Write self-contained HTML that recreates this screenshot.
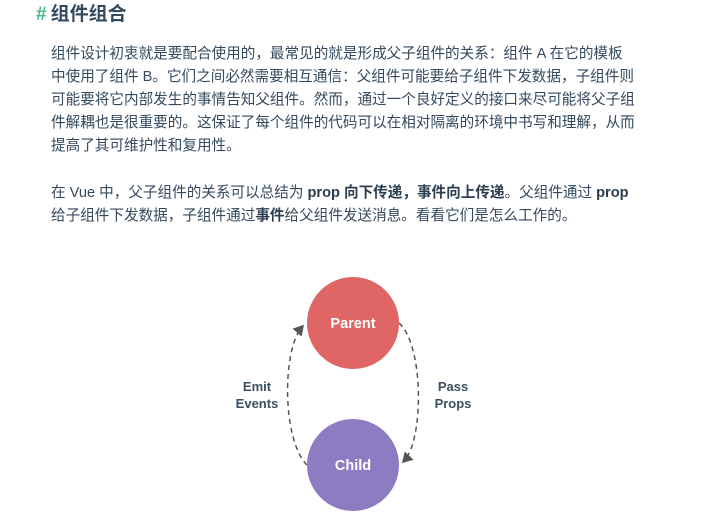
<!DOCTYPE html>
<html><head><meta charset="utf-8"><style>
body{margin:0;width:713px;height:526px;background:#fff;overflow:hidden;font-family:"Liberation Sans","Noto Sans CJK SC",sans-serif;color:#34495e;}
h2{position:absolute;left:36px;top:3px;margin:0;font-size:19px;font-weight:700;line-height:24px;}
h2 span{color:#42b983;margin-right:4px;}
.p{position:absolute;left:51px;font-size:14.6px;line-height:23px;white-space:nowrap;}
b{font-weight:700;color:#2c3e50;}
</style></head><body>
<h2><span>#</span>组件组合</h2>
<div class="p" style="top:43px">组件设计初衷就是要配合使用的，最常见的就是形成父子组件的关系：组件 A 在它的模板<br>中使用了组件 B。它们之间必然需要相互通信：父组件可能要给子组件下发数据，子组件则<br>可能要将它内部发生的事情告知父组件。然而，通过一个良好定义的接口来尽可能将父子组<br>件解耦也是很重要的。这保证了每个组件的代码可以在相对隔离的环境中书写和理解，从而<br>提高了其可维护性和复用性。</div>
<div class="p" style="top:182px">在 Vue 中，父子组件的关系可以总结为 <b>prop 向下传递，事件向上传递</b>。父组件通过 <b>prop</b><br>给子组件下发数据，子组件通过<b>事件</b>给父组件发送消息。看看它们是怎么工作的。</div>
<svg width="713" height="526" style="position:absolute;left:0;top:0">
<defs><marker id="a" markerWidth="8" markerHeight="8" refX="5" refY="4" orient="auto"><path d="M0,0 L7,4 L0,8 z" fill="#555"/></marker></defs>
<circle cx="353" cy="323" r="46" fill="#e06666"/>
<circle cx="353" cy="465" r="46" fill="#8e7cc3"/>
<path d="M307,465 C282,440 282,350 302,327" fill="none" stroke="#555" stroke-width="1.5" stroke-dasharray="5,4" marker-end="url(#a)"/>
<path d="M399,323 C424,345 424,440 404,461" fill="none" stroke="#555" stroke-width="1.5" stroke-dasharray="5,4" marker-end="url(#a)"/>
<g font-family="Liberation Sans,sans-serif" font-weight="700" text-anchor="middle">
<text x="353" y="328" fill="#fff" font-size="14.5">Parent</text>
<text x="353" y="470" fill="#fff" font-size="14.5">Child</text>
<g fill="#3d4f63" font-size="13"><text x="257" y="391">Emit</text><text x="257" y="408">Events</text>
<text x="453" y="391">Pass</text><text x="453" y="408">Props</text></g>
</g></svg>
</body></html>
